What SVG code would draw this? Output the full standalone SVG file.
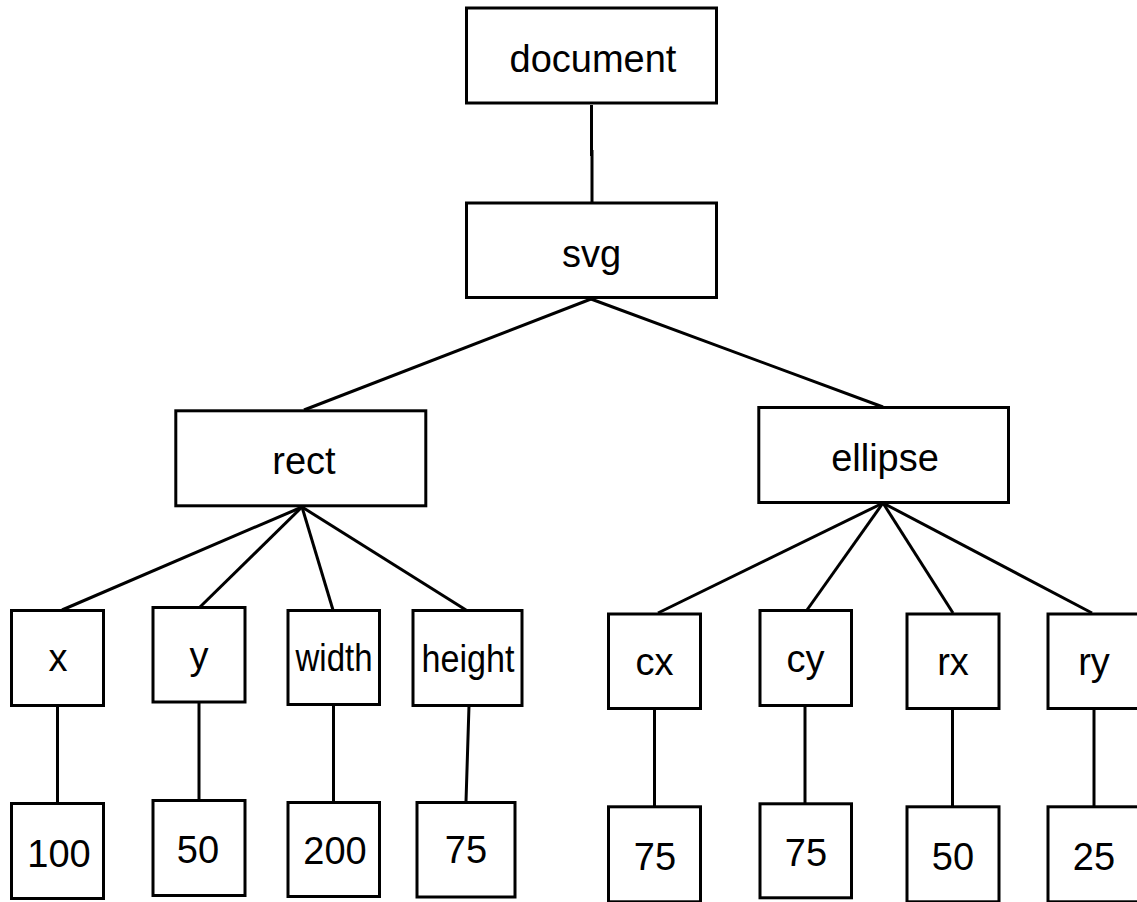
<svg xmlns="http://www.w3.org/2000/svg" width="1137" height="902" viewBox="0 0 1137 902">
<style>
.box{fill:#fff;stroke:#000;stroke-width:3}
.lbl{font-family:"Liberation Sans",Arial,Helvetica,sans-serif;font-size:38px;fill:#000;text-anchor:middle}
.edge{stroke:#000;stroke-width:3;fill:none}
</style>
<rect width="1137" height="902" fill="#fff"/>
<g id="connectors">
<path class="edge" d="M591.5 105 V156 M592 150 V202"/>
<line class="edge" x1="591" y1="299" x2="304" y2="410"/>
<line class="edge" x1="591" y1="299" x2="883" y2="407"/>
<line class="edge" x1="302" y1="507" x2="62" y2="610"/>
<line class="edge" x1="302" y1="507" x2="200" y2="607"/>
<line class="edge" x1="302" y1="507" x2="333" y2="610"/>
<line class="edge" x1="302" y1="507" x2="466" y2="610"/>
<line class="edge" x1="883" y1="503" x2="658" y2="613"/>
<line class="edge" x1="883" y1="503" x2="807" y2="610"/>
<line class="edge" x1="883" y1="503" x2="953" y2="613"/>
<line class="edge" x1="883" y1="503" x2="1092" y2="613"/>
<line class="edge" x1="57.5" y1="706" x2="57.5" y2="803"/>
<line class="edge" x1="199" y1="703" x2="199" y2="800"/>
<line class="edge" x1="333.5" y1="705" x2="333.5" y2="802"/>
<line class="edge" x1="469" y1="706" x2="466" y2="802"/>
<line class="edge" x1="654.5" y1="709" x2="654.5" y2="806"/>
<line class="edge" x1="805" y1="706" x2="805" y2="803"/>
<line class="edge" x1="952.5" y1="709" x2="952.5" y2="806"/>
<line class="edge" x1="1094" y1="709" x2="1094" y2="806"/>
</g>
<g id="n-document"><rect class="box" x="466.5" y="8" width="250" height="95"/><text class="lbl" x="593" y="72">document</text></g>
<g id="n-svg"><rect class="box" x="466.5" y="203" width="250" height="94.5"/><text class="lbl" x="591.5" y="267">svg</text></g>
<g id="n-rect"><rect class="box" x="175.8" y="410.8" width="250" height="95"/><text class="lbl" x="304" y="474">rect</text></g>
<g id="n-ellipse"><rect class="box" x="758.8" y="407.5" width="249.7" height="95"/><text class="lbl" x="885" y="471">ellipse</text></g>
<g id="n-x"><rect class="box" x="11.5" y="610.5" width="92" height="95"/><text class="lbl" x="58" y="671">x</text></g>
<g id="n-y"><rect class="box" x="153" y="607.5" width="92" height="94.5"/><text class="lbl" x="199" y="669">y</text></g>
<g id="n-width"><rect class="box" x="288" y="610.5" width="91.5" height="94"/><text class="lbl" x="334" y="671" textLength="77" lengthAdjust="spacingAndGlyphs">width</text></g>
<g id="n-height"><rect class="box" x="413" y="610.5" width="109" height="95"/><text class="lbl" x="468" y="672" textLength="93" lengthAdjust="spacingAndGlyphs">height</text></g>
<g id="n-cx"><rect class="box" x="608.5" y="614" width="92" height="94.5"/><text class="lbl" x="654.5" y="675">cx</text></g>
<g id="n-cy"><rect class="box" x="760" y="610.5" width="91.5" height="95"/><text class="lbl" x="805.5" y="672">cy</text></g>
<g id="n-rx"><rect class="box" x="907" y="614" width="92" height="94.5"/><text class="lbl" x="953" y="675">rx</text></g>
<g id="n-ry"><rect class="box" x="1048" y="614" width="92" height="94.5"/><text class="lbl" x="1094" y="675">ry</text></g>
<g id="n-100"><rect class="box" x="11.5" y="803.5" width="92" height="95"/><text class="lbl" x="59" y="867">100</text></g>
<g id="n-50a"><rect class="box" x="153" y="800.5" width="92" height="95"/><text class="lbl" x="198" y="863">50</text></g>
<g id="n-200"><rect class="box" x="288" y="802.5" width="91.5" height="94"/><text class="lbl" x="335" y="864">200</text></g>
<g id="n-75a"><rect class="box" x="417" y="802.5" width="98" height="94.5"/><text class="lbl" x="466" y="863">75</text></g>
<g id="n-75b"><rect class="box" x="608.5" y="806.8" width="92" height="95"/><text class="lbl" x="655" y="870">75</text></g>
<g id="n-75c"><rect class="box" x="760" y="803.8" width="91.5" height="94"/><text class="lbl" x="806" y="866">75</text></g>
<g id="n-50b"><rect class="box" x="907" y="806.8" width="92" height="95"/><text class="lbl" x="953" y="870">50</text></g>
<g id="n-25"><rect class="box" x="1048" y="806.8" width="92" height="95"/><text class="lbl" x="1094" y="870">25</text></g>
</svg>
